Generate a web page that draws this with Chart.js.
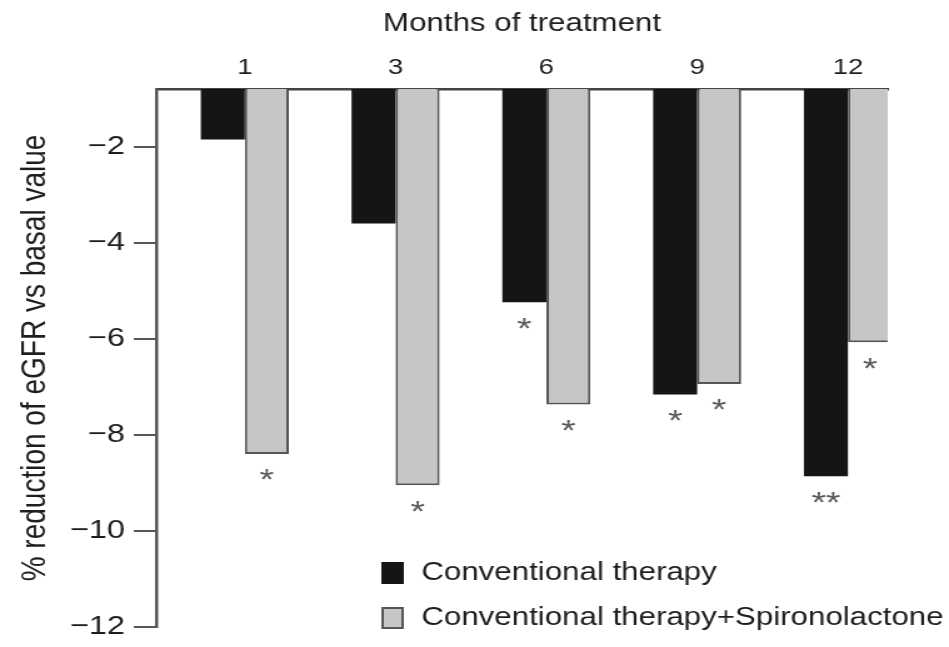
<!DOCTYPE html>
<html><head><meta charset="utf-8">
<script src="https://cdn.jsdelivr.net/npm/chart.js@4.4.1/dist/chart.umd.min.js"></script>
<style>html,body{margin:0;padding:0;background:#fff;overflow:hidden}canvas{display:block}</style>
</head><body>
<canvas id="c" width="759" height="647" style="width:949px;height:647px"></canvas>
<script>
// ---- data ----
const MONTHS = ['1', '3', '6', '9', '12'];
const SERIES_NAMES = ['Conventional therapy', 'Conventional therapy+Spironolactone'];
const CONVENTIONAL = [-1.85, -3.6, -5.24, -7.16, -8.86];
const SPIRONOLACTONE = [-8.4, -9.05, -7.37, -6.94, -6.07];
const SIG_CONVENTIONAL = ['', '', '*', '*', '**'];
const SIG_SPIRONOLACTONE = ['*', '*', '*', '*', '*'];
const Y_TICKS = [-12, -10, -8, -6, -4, -2];
const Y_MIN = -12, Y_MAX = -0.8;
const X_MIN = -0.587, X_MAX = 4.264;

const FONT = "'Liberation Sans', Arial, Helvetica, sans-serif";
const SIGS = [SIG_CONVENTIONAL, SIG_SPIRONOLACTONE];
const LEGEND = { x: 306, textX: 337, y0: 573, dy: 45, w: 16, h: 20, size: 25 };

const sigPlugin = {
  id: 'sig',
  afterDatasetsDraw(chart) {
    const ctx = chart.ctx;
    ctx.save();
    const size = 30;
    ctx.font = size + 'px ' + FONT;
    ctx.fillStyle = '#5a5a5a';
    ctx.textAlign = 'center';
    ctx.textBaseline = 'alphabetic';
    SIGS.forEach((arr, d) => {
      const meta = chart.getDatasetMeta(d);
      meta.data.forEach((bar, i) => {
        const s = arr[i];
        if (!s) return;
        ctx.fillText(s, bar.x, bar.y + 18 + 0.58 * size);
      });
    });
    ctx.restore();
  }
};

const legendPlugin = {
  id: 'customLegend',
  afterDraw(chart) {
    const ctx = chart.ctx;
    ctx.save();
    ctx.font = LEGEND.size + 'px ' + FONT;
    ctx.textBaseline = 'middle';
    ctx.textAlign = 'left';
    chart.data.datasets.forEach((ds, d) => {
      const yc = LEGEND.y0 + d * LEGEND.dy;
      ctx.fillStyle = ds.backgroundColor;
      ctx.fillRect(LEGEND.x, yc - LEGEND.h / 2, LEGEND.w, LEGEND.h);
      ctx.strokeStyle = ds.borderColor;
      ctx.lineWidth = 2;
      ctx.strokeRect(LEGEND.x, yc - LEGEND.h / 2, LEGEND.w, LEGEND.h);
      ctx.fillStyle = '#1e1e1e';
      ctx.fillText(ds.label, LEGEND.textX, yc);
    });
    ctx.restore();
  }
};

new Chart(document.getElementById('c'), {
  type: 'bar',
  data: {
    datasets: [
      {
        label: SERIES_NAMES[0],
        data: CONVENTIONAL.map((v, i) => ({ x: i, y: v })),
        backgroundColor: '#151515',
        borderColor: '#151515',
        borderWidth: 0,
        base: Y_MAX,
        categoryPercentage: 0.584,
        barPercentage: 1
      },
      {
        label: SERIES_NAMES[1],
        data: SPIRONOLACTONE.map((v, i) => ({ x: i, y: v })),
        backgroundColor: '#c6c6c6',
        borderColor: '#555555',
        borderWidth: 2,
        base: Y_MAX,
        categoryPercentage: 0.584,
        barPercentage: 1
      }
    ]
  },
  options: {
    responsive: false,
    animation: false,
    devicePixelRatio: 1,
    layout: { padding: { left: 0, right: 49, top: 0, bottom: 6 } },
    plugins: { legend: { display: false }, tooltip: { enabled: false } },
    scales: {
      x: {
        type: 'linear',
        position: 'top',
        offset: false,
        min: X_MIN,
        max: X_MAX,
        afterBuildTicks: s => { s.ticks = MONTHS.map((_, i) => ({ value: i })); },
        afterFit: s => { s.height = 89; },
        ticks: {
          callback: v => MONTHS[v],
          font: { family: FONT, size: 22 },
          color: '#1e1e1e',
          padding: 8,
          maxRotation: 0,
          autoSkip: false
        },
        grid: { display: false, drawTicks: false, offset: false },
        border: { display: true, color: '#444', width: 2.5 },
        title: {
          display: true,
          text: 'Months of treatment',
          font: { family: FONT, size: 25 },
          color: '#1e1e1e',
          padding: { top: 9, bottom: 0 }
        }
      },
      y: {
        type: 'linear',
        min: Y_MIN,
        max: Y_MAX,
        afterBuildTicks: s => { s.ticks = Y_TICKS.map(v => ({ value: v })); },
        afterFit: s => { s.width = 125; },
        ticks: {
          callback: v => '\u2212' + Math.abs(v),
          font: { family: FONT, size: 26, lineHeight: 1.0 },
          color: '#1e1e1e',
          padding: 7
        },
        grid: { drawOnChartArea: false, drawTicks: true, tickLength: 18, color: '#555', lineWidth: 2 },
        border: { display: true, color: '#555', width: 2.5 },
        title: {
          display: true,
          text: '% reduction of eGFR vs basal value',
          font: { family: FONT, size: 28 },
          color: '#1e1e1e',
          padding: { top: 11, bottom: 0 }
        }
      }
    }
  },
  plugins: [sigPlugin, legendPlugin]
});
</script>
</body></html>
